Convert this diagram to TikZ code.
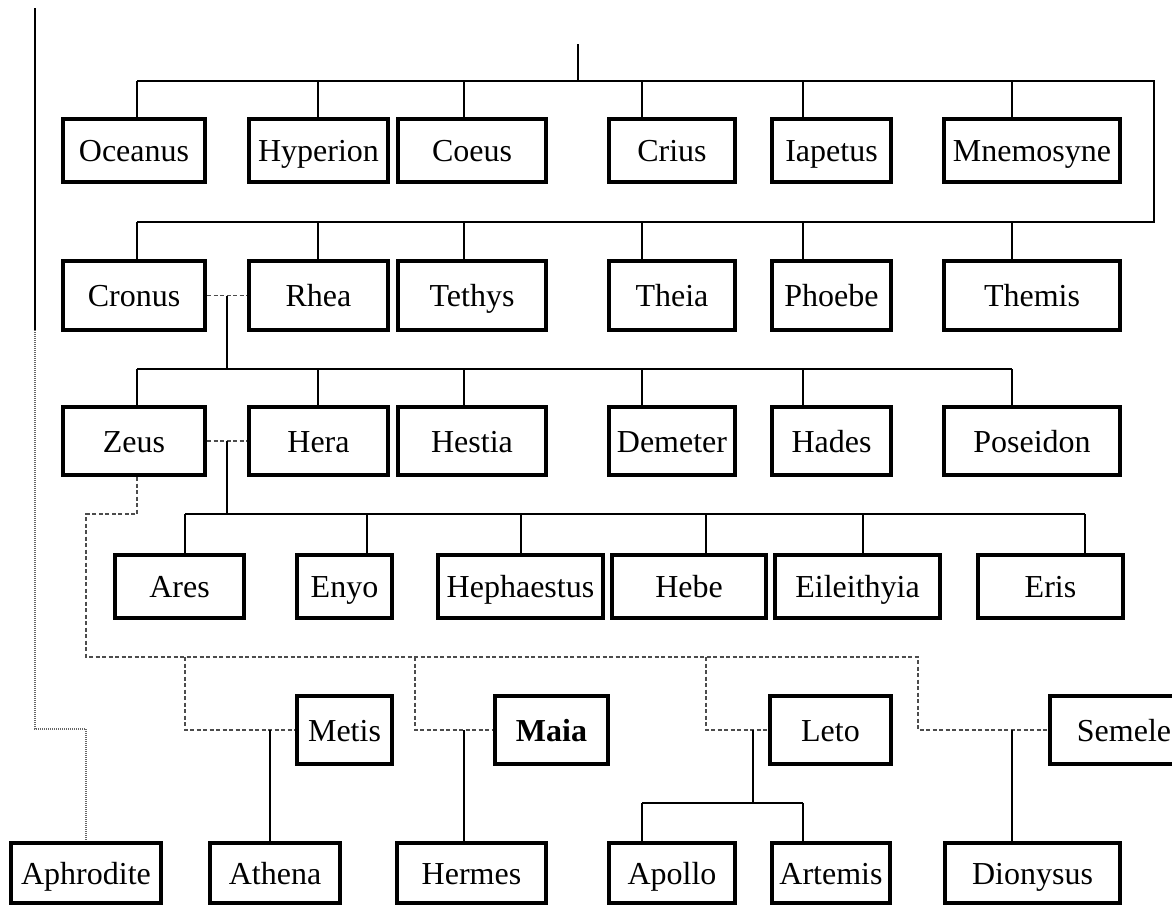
\documentclass[tikz,border=0pt]{standalone}
\usepackage{fontspec}
\setmainfont{Liberation Serif}
\begin{document}
\begin{tikzpicture}[x=1pt,y=-1pt,
  godbox/.style={draw, line width=4pt, inner sep=0pt, text height=22pt, text depth=0pt,
    font=\fontsize{32}{37}\selectfont},
  conn/.style={line width=1.3pt},
  marriage/.style={line width=1.1pt, draw=black!70, dash pattern=on 4pt off 2.5pt},
  affair/.style={line width=1.1pt, draw=black!60, dash pattern=on 1pt off 1pt}]
\useasboundingbox (0,0) rectangle (1172,905);
% Row 1
\node[godbox, minimum width=142pt, minimum height=63pt] (Oceanus) at (134,150.5) {Oceanus};
\node[godbox, minimum width=139pt, minimum height=63pt] (Hyperion) at (318.5,150.5) {Hyperion};
\node[godbox, minimum width=148pt, minimum height=63pt] (Coeus) at (472,150.5) {Coeus};
\node[godbox, minimum width=126pt, minimum height=63pt] (Crius) at (672,150.5) {Crius};
\node[godbox, minimum width=119pt, minimum height=63pt] (Iapetus) at (831.5,150.5) {Iapetus};
\node[godbox, minimum width=176pt, minimum height=63pt] (Mnemosyne) at (1032,150.5) {Mnemosyne};
% Row 2
\node[godbox, minimum width=142pt, minimum height=69pt] (Cronus) at (134,295.5) {Cronus};
\node[godbox, minimum width=139pt, minimum height=69pt] (Rhea) at (318.5,295.5) {Rhea};
\node[godbox, minimum width=148pt, minimum height=69pt] (Tethys) at (472,295.5) {Tethys};
\node[godbox, minimum width=126pt, minimum height=69pt] (Theia) at (672,295.5) {Theia};
\node[godbox, minimum width=119pt, minimum height=69pt] (Phoebe) at (831.5,295.5) {Phoebe};
\node[godbox, minimum width=176pt, minimum height=69pt] (Themis) at (1032,295.5) {Themis};
% Row 3
\node[godbox, minimum width=142pt, minimum height=68pt] (Zeus) at (134,441) {Zeus};
\node[godbox, minimum width=139pt, minimum height=68pt] (Hera) at (318.5,441) {Hera};
\node[godbox, minimum width=148pt, minimum height=68pt] (Hestia) at (472,441) {Hestia};
\node[godbox, minimum width=126pt, minimum height=68pt] (Demeter) at (672,441) {Demeter};
\node[godbox, minimum width=119pt, minimum height=68pt] (Hades) at (831.5,441) {Hades};
\node[godbox, minimum width=176pt, minimum height=68pt] (Poseidon) at (1032,441) {Poseidon};
% Row 4
\node[godbox, minimum width=129pt, minimum height=63pt] (Ares) at (179.5,586.5) {Ares};
\node[godbox, minimum width=95pt, minimum height=63pt] (Enyo) at (344.5,586.5) {Enyo};
\node[godbox, minimum width=165pt, minimum height=63pt] (Hephaestus) at (520.5,586.5) {Hephaestus};
\node[godbox, minimum width=154pt, minimum height=63pt] (Hebe) at (689,586.5) {Hebe};
\node[godbox, minimum width=165pt, minimum height=63pt] (Eileithyia) at (857.5,586.5) {Eileithyia};
\node[godbox, minimum width=145pt, minimum height=63pt] (Eris) at (1050.5,586.5) {Eris};
% Row 5
\node[godbox, minimum width=95pt, minimum height=68pt] (Metis) at (344.5,730) {Metis};
\node[godbox, minimum width=113pt, minimum height=68pt] (Maia) at (551.5,730) {\bfseries Maia};
\node[godbox, minimum width=121pt, minimum height=68pt] (Leto) at (830.5,730) {Leto};
\node[godbox, minimum width=148pt, minimum height=68pt] (Semele) at (1124,730) {Semele};
% Row 6
\node[godbox, minimum width=150pt, minimum height=60pt] (Aphrodite) at (86,873) {Aphrodite};
\node[godbox, minimum width=130pt, minimum height=60pt] (Athena) at (275,873) {Athena};
\node[godbox, minimum width=149pt, minimum height=60pt] (Hermes) at (471.5,873) {Hermes};
\node[godbox, minimum width=126pt, minimum height=60pt] (Apollo) at (672,873) {Apollo};
\node[godbox, minimum width=118pt, minimum height=60pt] (Artemis) at (831,873) {Artemis};
\node[godbox, minimum width=175pt, minimum height=60pt] (Dionysus) at (1032.5,873) {Dionysus};

% Titans
\coordinate (top) at (578,44);
\draw[conn] (top) -- (578,81);
\draw[conn] (137,81) -- (1154,81) -- (1154,222) -- (137,222);
\foreach \x/\n in {137/Oceanus,318/Hyperion,464/Coeus,642/Crius,803/Iapetus,1012/Mnemosyne}
  \draw[conn] (\x,81) -- (\x,0 |- \n.north);
\foreach \x/\n in {137/Cronus,318/Rhea,464/Tethys,642/Theia,803/Phoebe,1012/Themis}
  \draw[conn] (\x,222) -- (\x,0 |- \n.north);
% Cronus + Rhea
\draw[marriage] (Cronus.east) -- (Rhea.west);
\draw[conn] (227,0 |- Cronus.east) -- (227,369);
\draw[conn] (137,369) -- (1012,369);
\foreach \x/\n in {137/Zeus,318/Hera,464/Hestia,642/Demeter,803/Hades,1012/Poseidon}
  \draw[conn] (\x,369) -- (\x,0 |- \n.north);
% Zeus + Hera
\draw[marriage] (Zeus.east) -- (Hera.west);
\draw[conn] (227,0 |- Zeus.east) -- (227,514);
\draw[conn] (185,514) -- (1085,514);
\foreach \x/\n in {185/Ares,367/Enyo,521/Hephaestus,706/Hebe,863/Eileithyia,1085/Eris}
  \draw[conn] (\x,514) -- (\x,0 |- \n.north);
% Zeus's other unions
\draw[marriage] (137,0 |- Zeus.south) -- (137,514) -- (86,514) -- (86,657) -- (918,657) |- (Semele.west);
\draw[marriage] (185,657) |- (Metis.west);
\draw[marriage] (415,657) |- (Maia.west);
\draw[marriage] (706,657) |- (Leto.west);
% children
\draw[conn] (270,0 |- Metis.west) -- (270,0 |- Athena.north);
\draw[conn] (464,0 |- Maia.west) -- (464,0 |- Hermes.north);
\draw[conn] (753,0 |- Leto.west) -- (753,803);
\draw[conn] (642,803) -- (803,803);
\draw[conn] (642,803) -- (642,0 |- Apollo.north);
\draw[conn] (803,803) -- (803,0 |- Artemis.north);
\draw[conn] (1012,0 |- Semele.west) -- (1012,0 |- Dionysus.north);
% Aphrodite
\coordinate (uranus) at (35,8);
\draw[conn, line width=1.1pt] (uranus) -- (35,330);
\draw[affair] (35,330) -- (35,729) -- (86,729) -- (Aphrodite.north);
\end{tikzpicture}
\end{document}
